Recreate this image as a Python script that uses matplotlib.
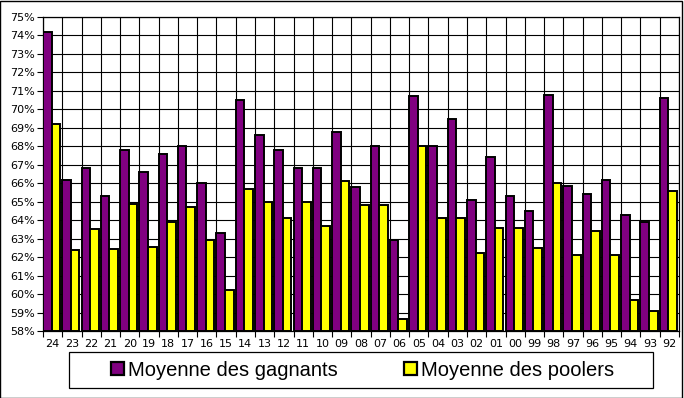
import matplotlib
matplotlib.use("Agg")
import matplotlib.pyplot as plt
from matplotlib.patches import Patch, Rectangle
import numpy as np

categories = ["24", "23", "22", "21", "20", "19", "18", "17", "16", "15", "14", "13", "12",
              "11", "10", "09", "08", "07", "06", "05", "04", "03", "02", "01", "00", "99",
              "98", "97", "96", "95", "94", "93", "92"]
gagnants = [74.2, 66.2, 66.8, 65.3, 67.8, 66.6, 67.6, 68.0, 66.0, 63.3, 70.5, 68.6, 67.8,
            66.8, 66.8, 68.8, 65.8, 68.0, 62.9, 70.7, 68.0, 69.5, 65.1, 67.4, 65.3, 64.5,
            70.8, 65.85, 65.4, 66.2, 64.3, 63.9, 70.6]
poolers = [69.2, 62.4, 63.5, 62.45, 64.9, 62.55, 63.9, 64.7, 62.9, 60.2, 65.7, 65.0, 64.1,
           65.0, 63.7, 66.1, 64.8, 64.8, 58.65, 68.0, 64.1, 64.1, 62.2, 63.6, 63.6, 62.5,
           66.0, 62.1, 63.4, 62.1, 59.7, 59.1, 65.6]
series_names = ["Moyenne des gagnants", "Moyenne des poolers"]
y_min, y_max = 58, 75

W, H = 684, 398
fig = plt.figure(figsize=(W/100, H/100), dpi=100)
fig.patch.set_facecolor("white")
fig.patches.append(Rectangle((0.0007, 0.0012), 0.9971, 0.9963, transform=fig.transFigure,
                             fill=False, edgecolor="black", linewidth=1.0, zorder=10))

ax = fig.add_axes([43/W, 1-331/H, (679-43)/W, (331-17)/H])
n = len(categories)
x = np.arange(n)
w = 0.445
base = y_min
ax.bar(x + w/2, np.array(gagnants) - base, bottom=base, width=w, color="#800080",
       edgecolor="black", linewidth=1.4, zorder=3, label=series_names[0])
ax.bar(x + 1.5*w, np.array(poolers) - base, bottom=base, width=w, color="#FFFF00",
       edgecolor="black", linewidth=1.4, zorder=3, label=series_names[1])

ax.set_xlim(0, n)
ax.set_ylim(y_min, y_max)
ax.set_xticks(x + 0.5)
ax.set_xticklabels(categories, fontsize=8, family="DejaVu Sans")
ax.set_xticks(np.arange(n + 1), minor=True)
ax.tick_params(axis="x", which="major", length=0, pad=6)
ax.tick_params(axis="x", which="minor", length=4, width=0.8, color="black")
yt = np.arange(y_min, y_max + 1)
ax.set_yticks(yt)
ax.set_yticklabels([f"{v}%" for v in yt], fontsize=8, family="DejaVu Sans")
ax.tick_params(axis="y", length=4, width=0.8, pad=2)
ax.grid(axis="y", which="major", color="black", linewidth=0.8, zorder=0)
ax.grid(axis="x", which="minor", color="black", linewidth=0.8, zorder=0)
ax.set_axisbelow(True)
for s in ax.spines.values():
    s.set_color("black")
    s.set_linewidth(0.9)

# legend frame
fig.patches.append(Rectangle((69/W, 1-388/H), (653-69)/W, 36/H, transform=fig.transFigure,
                             facecolor="white", edgecolor="black", linewidth=0.9, zorder=5))
handles = [Patch(facecolor="#800080", edgecolor="black", linewidth=1.6),
           Patch(facecolor="#FFFF00", edgecolor="black", linewidth=1.6)]
fs = 14.5
px = fs * 100 / 72
leg = fig.legend(handles, series_names, loc="center", bbox_to_anchor=(362.5/W, 1-370/H),
                 ncol=2, frameon=False,
                 prop={"family": "Liberation Sans", "size": fs},
                 handlelength=13/px, handleheight=13/px, handletextpad=4/px,
                 columnspacing=66/px, borderpad=0.2)
leg.set_zorder(6)

fig.savefig("out.png", dpi=100)
